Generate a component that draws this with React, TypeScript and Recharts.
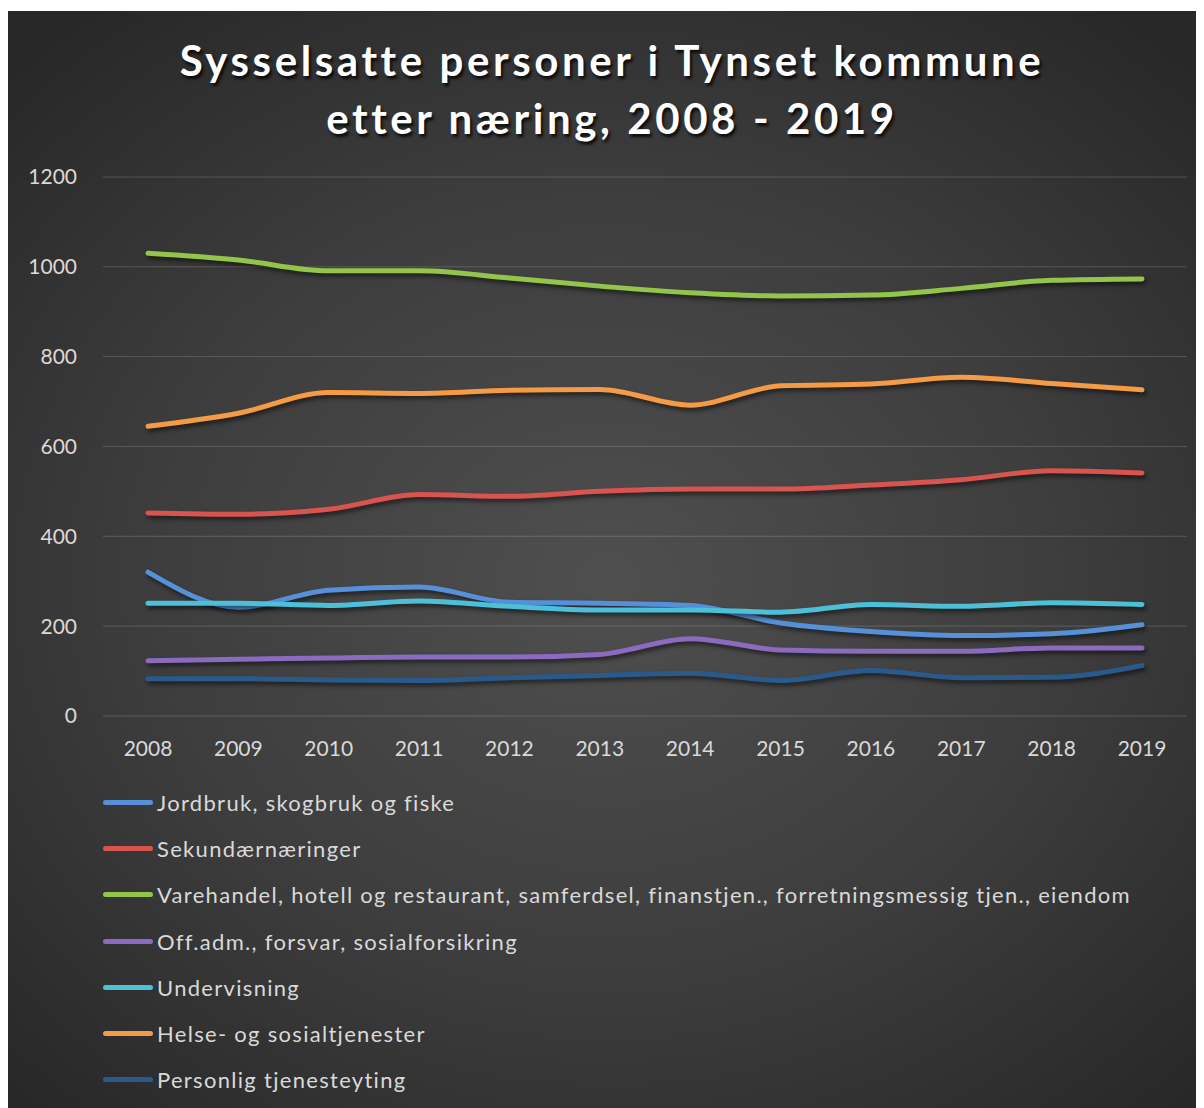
import React from 'react';
import {
  LineChart,
  Line,
  XAxis,
  YAxis,
  CartesianGrid,
  Legend,
} from 'recharts';

const YEARS = ['2008', '2009', '2010', '2011', '2012', '2013', '2014', '2015', '2016', '2017', '2018', '2019'];

const jordbruk = [320, 242, 280, 287, 253, 251, 246, 207, 188, 179, 183, 203];
const sekundaer = [452, 449, 460, 493, 489, 500, 505, 505, 514, 526, 546, 541];
const varehandel = [1030, 1015, 991, 991, 975, 957, 942, 935, 937, 952, 970, 973];
const offAdm = [123, 126, 129, 131, 131, 137, 172, 147, 144, 144, 151, 151];
const undervisning = [251, 251, 246, 256, 244, 236, 236, 231, 248, 244, 252, 248];
const helse = [645, 674, 720, 718, 725, 727, 692, 735, 739, 754, 740, 726];
const personlig = [83, 83, 80, 79, 85, 90, 95, 79, 101, 85, 86, 112];

const Y_TICKS = [0, 200, 400, 600, 800, 1000, 1200];

const SERIES = [
  { key: 'jordbruk', name: 'Jordbruk, skogbruk og fiske', color: '#5590d8', values: jordbruk },
  { key: 'sekundaer', name: 'Sekundærnæringer', color: '#d9534f', values: sekundaer },
  {
    key: 'varehandel',
    name: 'Varehandel, hotell og restaurant, samferdsel, finanstjen., forretningsmessig tjen., eiendom',
    color: '#93c54b',
    values: varehandel,
  },
  { key: 'offAdm', name: 'Off.adm., forsvar, sosialforsikring', color: '#8a6bbf', values: offAdm },
  { key: 'undervisning', name: 'Undervisning', color: '#4cc0d8', values: undervisning },
  { key: 'helse', name: 'Helse- og sosialtjenester', color: '#f59a45', values: helse },
  { key: 'personlig', name: 'Personlig tjenesteyting', color: '#2a5a8c', values: personlig },
];

const FONT = 'Lato, "Open Sans", sans-serif';
const TEXT = '#d9d9d9';
const ROW_H = 46.3;

const LegendList = () => (
  <div style={{ height: ROW_H * SERIES.length, fontFamily: FONT }}>
    {SERIES.map((s) => (
      <div
        key={s.key}
        style={{ height: ROW_H, display: 'flex', alignItems: 'center', whiteSpace: 'nowrap' }}
      >
        <span
          style={{
            display: 'inline-block',
            width: 50,
            height: 5,
            borderRadius: 3,
            background: s.color,
            marginRight: 4,
          }}
        />
        <span style={{ color: TEXT, fontSize: 22, letterSpacing: 1.3 }}>{s.name}</span>
      </div>
    ))}
  </div>
);

export default function App() {
  const data = YEARS.map((year, i) => {
    const row: Record<string, any> = { year };
    SERIES.forEach((s) => {
      row[s.key] = s.values[i];
    });
    return row;
  });

  return (
    <div
      style={{
        position: 'relative',
        marginTop: 3,
        width: 1196,
        height: 1097,
        background:
          'radial-gradient(ellipse 70% 65% at 50% 52%, #4f4f4f 0%, #3d3d3d 55%, #282828 100%)',
        overflow: 'hidden',
      }}
    >
      <style>{`.recharts-line-curve { filter: drop-shadow(2px 3px 2px rgba(0,0,0,0.55)); }`}</style>
      <div
        style={{
          position: 'absolute',
          top: 20,
          left: 6,
          width: '100%',
          textAlign: 'center',
          color: '#ffffff',
          fontFamily: FONT,
          fontWeight: 700,
          fontSize: 42,
          lineHeight: '58px',
          letterSpacing: 3.6,
          textShadow: '2px 3px 3px rgba(0,0,0,0.8)',
          zIndex: 2,
        }}
      >
        Sysselsatte personer i Tynset kommune
        <br />
        etter næring, 2008 - 2019
      </div>
      <LineChart
        width={1196}
        height={1097}
        data={data}
        margin={{ top: 166, right: 17, left: 0, bottom: 28 }}
      >
        <CartesianGrid
          vertical={false}
          stroke="rgba(255,255,255,0.17)"
          strokeWidth={1}
        />
        <XAxis
          dataKey="year"
          axisLine={false}
          tickLine={false}
          tickSize={0}
          tickMargin={25}
          height={40}
          padding={{ left: 45, right: 45 }}
          tick={{ fill: TEXT, fontSize: 21, fontFamily: FONT }}
        />
        <YAxis
          domain={[0, 1200]}
          ticks={Y_TICKS}
          interval={0}
          width={95}
          axisLine={false}
          tickLine={false}
          tickSize={0}
          tickMargin={26}
          tick={{ fill: TEXT, fontSize: 21, fontFamily: FONT }}
        />
        <Legend
          layout="vertical"
          align="center"
          verticalAlign="bottom"
          wrapperStyle={{ left: 95, top: 768, width: 1100 }}
          content={() => <LegendList />}
        />
        {SERIES.map((s) => (
          <Line
            key={s.key}
            type="monotone"
            dataKey={s.key}
            name={s.name}
            stroke={s.color}
            strokeWidth={5}
            strokeLinecap="round"
            dot={false}
            activeDot={false}
            isAnimationActive={false}
          />
        ))}
      </LineChart>
    </div>
  );
}
